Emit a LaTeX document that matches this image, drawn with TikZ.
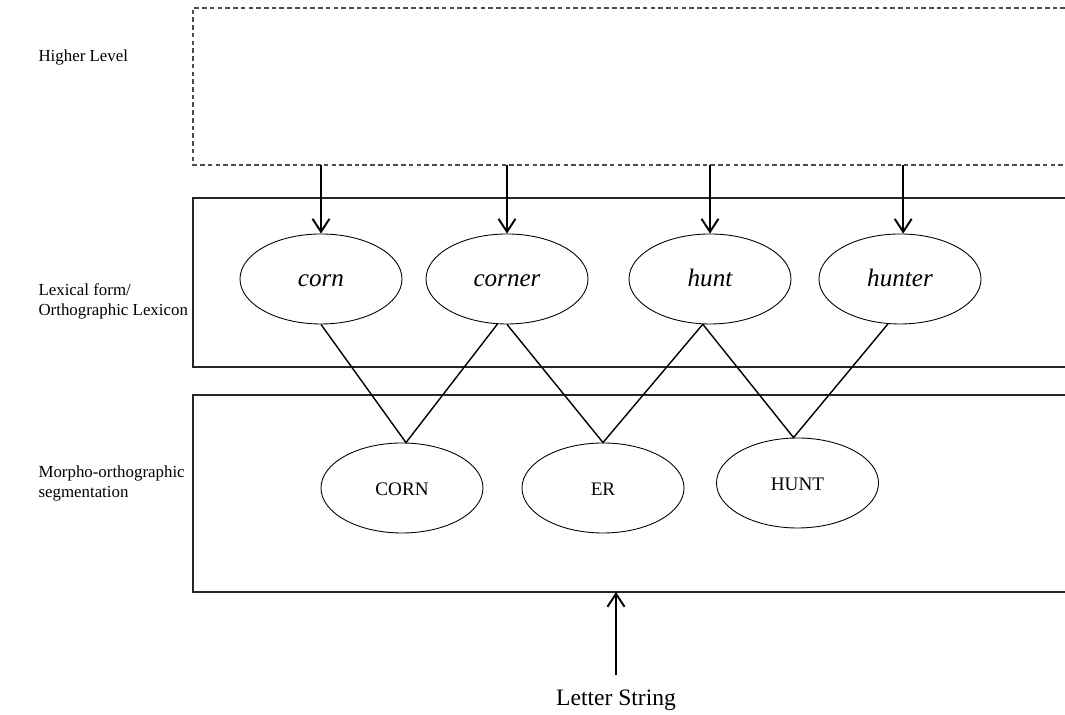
\documentclass[tikz,border=0pt]{standalone}
\usepackage{fontspec}
\setmainfont{Liberation Serif}
\usetikzlibrary{arrows.meta, shapes.geometric, calc}

\begin{document}
\begin{tikzpicture}[>={Straight Barb[length=2.6mm,width=3.4mm]}, semithick,
      word/.style={ellipse, draw, line width=0.5pt, minimum width=3.24cm,
        minimum height=1.8cm, inner sep=0pt, text height=2.2ex, text depth=0.3ex},
      lex/.style={word, font=\fontsize{14.3}{16}\selectfont\itshape},
      morph/.style={word, font=\fontsize{10.9}{13}\selectfont},
      level/.style={anchor=west, align=left, inner sep=0pt,
        font=\fontsize{9.6}{11.4}\selectfont},
      layer/.style={line width=0.6pt, black!85},
      down/.style={->, line width=1.1pt},
      link/.style={line width=0.8pt}]
    \useasboundingbox (0,0) rectangle (21.3,14.3);

    % layers (open to the right)
    \draw[layer, black!70, dash pattern=on 2.6pt off 1.8pt] (21.3,14.14) -| (3.86,11.0) -- (21.3,11.0);
    \draw[layer] (21.3,10.34) -| (3.86,6.96) -- (21.3,6.96);
    \draw[layer] (21.3,6.4) -| (3.86,2.46) -- (21.3,2.46);
    \coordinate (hl) at (3.86,11.0);
    \coordinate (segbot) at (3.86,2.46);

    \node[level] (higher) at (0.76,13.16) {Higher Level};
    \node[level] (lexical) at (0.76,8.27) {Lexical form/\\Orthographic Lexicon};
    \node[level] (morpho) at (0.76,4.63) {Morpho-orthographic\\segmentation};

    \node[lex] (corn) at (6.42,8.72) {corn};
    \node[lex] (corner) at (10.14,8.72) {corner};
    \node[lex] (hunt) at (14.2,8.72) {hunt};
    \node[lex] (hunter) at (18.0,8.72) {hunter};

    \node[morph] (CORN) at (8.04,4.54) {CORN};
    \node[morph] (ER) at (12.06,4.54) {ER};
    \node[morph] (HUNT) at (15.95,4.64) {HUNT};

    \node[font=\fontsize{13.4}{16}\selectfont] (letters) at (12.32,0.3) {Letter String};

    \foreach \w/\a in {corn/north, corner/north, hunt/north, hunter/86}
      \draw[down] (\w.\a |- hl) -- (\w.\a);

    \draw[link] (corn.south) -- (CORN.85) -- (corner.258);
    \draw[link] (corner.south) -- (ER.north) -- (hunt.261);
    \draw[link] (hunt.261) -- (HUNT.95) -- (hunter.255);

    \draw[down, shorten <=0.16cm] (letters.north) -- (letters.north |- segbot);
  \end{tikzpicture}
\end{document}
